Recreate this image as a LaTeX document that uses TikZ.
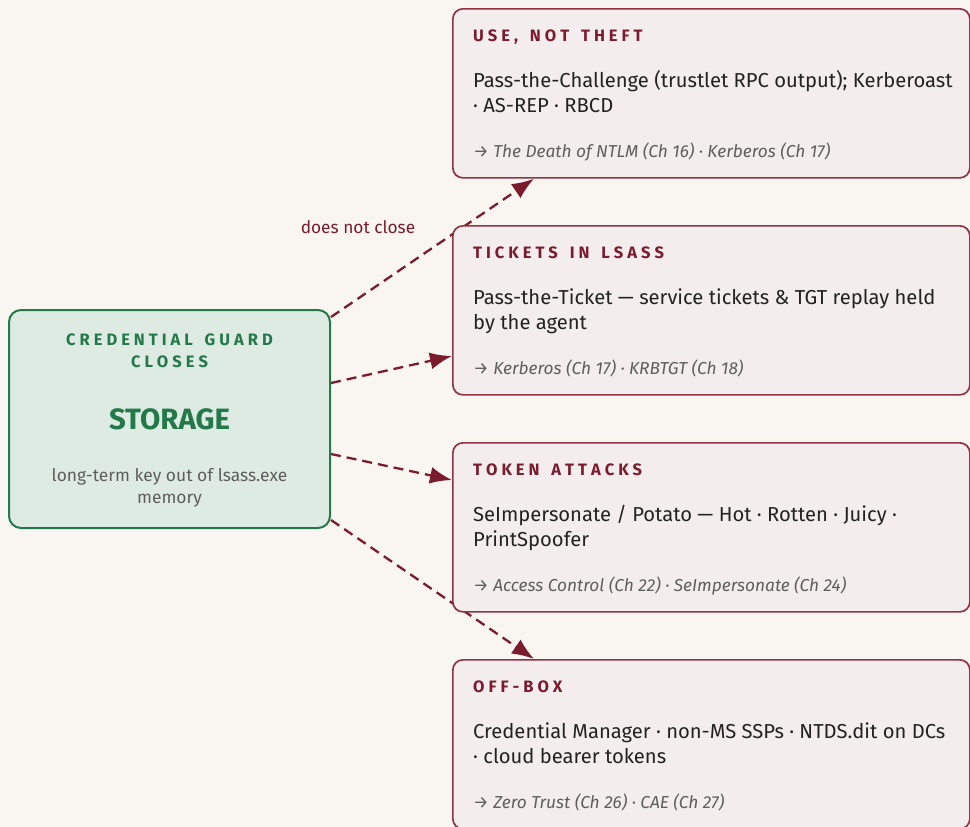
\documentclass[tikz,border=0pt]{standalone}
\usepackage{fontspec}
\setmainfont{Fira Sans}
\usetikzlibrary{arrows.meta,calc,backgrounds}

\definecolor{paper}{HTML}{F9F6F1}
\definecolor{wine}{HTML}{7B1C2E}
\definecolor{wineline}{HTML}{8E3445}
\definecolor{winefill}{HTML}{F3EDED}
\definecolor{leaf}{HTML}{23794A}
\definecolor{leaffill}{HTML}{DEEBE2}
\definecolor{ink}{HTML}{222222}
\definecolor{muted}{HTML}{5E5E5E}

% wide-tracked caps for the small headings
\ExplSyntaxOn
\dim_new:N \l_trk_gap_dim
\dim_set:Nn \l_trk_gap_dim {4pt}
\cs_new_protected:Npn \trk_char:n #1 { #1 \kern \l_trk_gap_dim }
\cs_new_protected:Npn \trk_item:nn #1#2
  {
    \int_compare:nNnT {#1} > {1} { ~ \kern \l_trk_gap_dim }
    \tl_map_function:nN {#2} \trk_char:n
  }
\NewDocumentCommand \tracked { m }
  {
    \seq_set_split:Nnn \l_tmpa_seq {~} {#1}
    \seq_map_indexed_function:NN \l_tmpa_seq \trk_item:nn
  }
\ExplSyntaxOff

\begin{document}
\begin{tikzpicture}[x=1pt,y=1pt,
  panel/.style={draw=wineline, line width=1.7pt, rounded corners=10pt, fill=winefill, minimum width=517pt, minimum height=169pt, anchor=north west, inner sep=0pt},
  closes/.style={draw=leaf, line width=2pt, rounded corners=12pt, fill=leaffill, minimum width=321pt, minimum height=218pt, anchor=north west, inner sep=0pt},
  head/.style={anchor=base west, inner sep=0pt, text=wine, font=\fontsize{16.5}{22}\selectfont\bfseries},
  body/.style={anchor=base west, inner sep=0pt, align=left, text=ink, font=\fontsize{20.2}{25}\selectfont},
  ref/.style={anchor=base west, inner sep=0pt, text=muted, font=\fontsize{17.3}{20}\selectfont\itshape},
  arrow/.style={-{Latex[length=22pt,width=17pt]}, draw=wine, line width=2.3pt, dash pattern=on 10pt off 6pt}
]
\useasboundingbox (0,0) rectangle (970,-827);

% the one thing Credential Guard closes
\node[closes] (storage) at (8,-309) {};
\node[anchor=base, align=center, inner sep=0pt, text=leaf, font=\fontsize{16.5}{22}\selectfont\bfseries] (guard) at ($(storage.north)+(2,-58)$) {\tracked{CREDENTIAL GUARD}\\\tracked{CLOSES}};
\node[anchor=base, inner sep=0pt, text=leaf, font=\fontsize{29.4}{32}\selectfont\bfseries] (storagetitle) at ($(storage.north)+(0,-120)$) {STORAGE};
\node[anchor=base, align=center, inner sep=0pt, text=muted, font=\fontsize{17.4}{22}\selectfont] (storagenote) at ($(storage.north)+(0,-194)$) {long-term key out of lsass.exe\\memory};

% what stays open
\node[panel] (use) at (452,-8) {};
\node[head] (usehead) at ($(use.north west)+(21,-33)$) {\tracked{USE, NOT THEFT}};
\node[body] (usebody) at ($(use.north west)+(21,-104)$) {Pass-the-Challenge (trustlet RPC output); Kerberoast\\· AS-REP · RBCD};
\node[ref] (useref) at ($(use.north west)+(21,-149)$) {→ The Death of NTLM (Ch 16) · Kerberos (Ch 17)};

\node[panel] (tickets) at (452,-225) {};
\node[head] (ticketshead) at ($(tickets.north west)+(21,-33)$) {\tracked{TICKETS IN LSASS}};
\node[body] (ticketsbody) at ($(tickets.north west)+(21,-104)$) {Pass-the-Ticket — service tickets \& TGT replay held\\by the agent};
\node[ref] (ticketsref) at ($(tickets.north west)+(21,-149)$) {→ Kerberos (Ch 17) · KRBTGT (Ch 18)};

\node[panel] (token) at (452,-442) {};
\node[head] (tokenhead) at ($(token.north west)+(21,-33)$) {\tracked{TOKEN ATTACKS}};
\node[body] (tokenbody) at ($(token.north west)+(21,-104)$) {SeImpersonate / Potato — Hot · Rotten · Juicy ·\\PrintSpoofer};
\node[ref] (tokenref) at ($(token.north west)+(21,-149)$) {→ Access Control (Ch 22) · SeImpersonate (Ch 24)};

\node[panel] (offbox) at (452,-659) {};
\node[head] (offboxhead) at ($(offbox.north west)+(21,-33)$) {\tracked{OFF-BOX}};
\node[body] (offboxbody) at ($(offbox.north west)+(21,-104)$) {Credential Manager · non-MS SSPs · NTDS.dit on DCs\\· cloud bearer tokens};
\node[ref] (offboxref) at ($(offbox.north west)+(21,-149)$) {→ Zero Trust (Ch 26) · CAE (Ch 27)};

\node[anchor=base, inner sep=0pt, text=wine, font=\fontsize{17.3}{20}\selectfont] (notclose) at (358,-233) {does not close};

% dashed links run under the panels
\begin{pgfonlayer}{background}
\fill[paper] (0,0) rectangle (970,-827);
\draw[arrow] ($(storage.north east)+(0,-8)$) -- ($(use.south west)+(82,0)$);
\draw[arrow] ($(storage.north east)+(0,-74)$) -- ($(tickets.north west)+(0,-131)$);
\draw[arrow] ($(storage.south east)+(0,75)$) -- ($(token.north west)+(0,-38)$);
\draw[arrow] ($(storage.south east)+(0,9)$) -- ($(offbox.north west)+(82,0)$);
\end{pgfonlayer}
\end{tikzpicture}
\end{document}
